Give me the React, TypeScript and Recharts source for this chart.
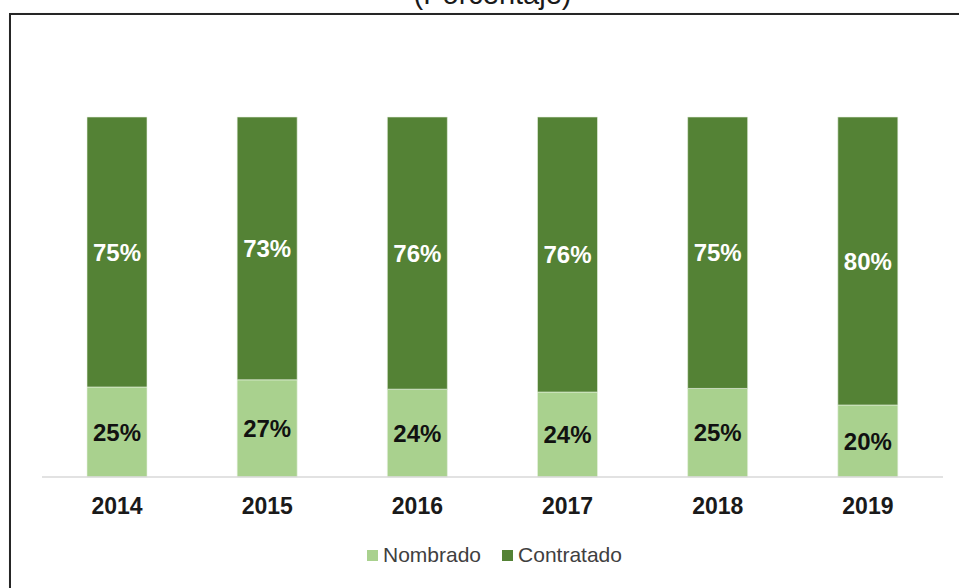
import React from 'react';
import { BarChart, Bar, XAxis, YAxis, LabelList } from 'recharts';

const YEARS = ['2014', '2015', '2016', '2017', '2018', '2019'];
const NOMBRADO = [25, 27, 24.4, 23.6, 24.6, 20];
const CONTRATADO = [75, 73, 75.6, 76.4, 75.4, 80];
const SERIES_NAMES = ['Nombrado', 'Contratado'];

const LIGHT = '#a9d18e';
const DARK = '#548235';
const SERIES_COLORS = [LIGHT, DARK];
const FONT = '"Liberation Sans", Arial, sans-serif';

const data = YEARS.map((year, i) => ({
  year,
  nombrado: NOMBRADO[i],
  contratado: CONTRATADO[i],
}));

function YearTick({ x, y, payload }: any) {
  return (
    <text x={x} y={y + 37} textAnchor="middle" fill="#1a1a1a" fontSize={23} fontWeight="bold" fontFamily={FONT}>
      {payload.value}
    </text>
  );
}

const pct = (v: any) => `${Math.round(Number(v))}%`;

export default function App() {
  return (
    <div style={{ position: 'absolute', left: 0, top: 0, width: 959, height: 588, overflow: 'hidden', background: '#fff' }}>
      <div
        style={{
          position: 'absolute',
          left: 0,
          top: -20,
          width: 959,
          textAlign: 'center',
          paddingLeft: 26,
          boxSizing: 'border-box',
          fontFamily: FONT,
          fontSize: 29,
          lineHeight: '29px',
          color: '#1a1a1a',
        }}
      >
        (Porcentaje)
      </div>
      <div
        style={{
          position: 'absolute',
          left: 9,
          top: 13,
          width: 1000,
          height: 640,
          border: '2px solid #262626',
          boxShadow: '1px 1px 2px #bbb',
        }}
      />
      <div style={{ position: 'absolute', left: 0, top: 0 }}>
        <BarChart width={959} height={588} data={data} margin={{ top: 117, right: 16, bottom: 81, left: 42 }}>
          <YAxis hide domain={[0, 100]} />
          <XAxis
            dataKey="year"
            height={30}
            tick={<YearTick />}
            tickLine={false}
            tickSize={0}
            tickMargin={0}
            axisLine={{ stroke: '#d9d9d9', strokeWidth: 1.5 }}
            interval={0}
          />
          <Bar dataKey="nombrado" name="Nombrado" stackId="a" fill={LIGHT} stroke="#e8f2e0" strokeWidth={0.6} barSize={60} isAnimationActive={false}>
            <LabelList dataKey="nombrado" position="center" formatter={pct} fill="#111" fontSize={24} fontWeight="bold" fontFamily={FONT} />
          </Bar>
          <Bar dataKey="contratado" name="Contratado" stackId="a" fill={DARK} stroke="#e8f2e0" strokeWidth={0.6} barSize={60} isAnimationActive={false}>
            <LabelList dataKey="contratado" position="center" formatter={pct} fill="#ffffff" fontSize={24} fontWeight="bold" fontFamily={FONT} />
          </Bar>
        </BarChart>
      </div>
      <div
        style={{
          position: 'absolute',
          left: 367,
          top: 542,
          display: 'flex',
          alignItems: 'center',
          fontFamily: FONT,
          fontSize: 21,
          lineHeight: '26px',
          color: '#404040',
        }}
      >
        {SERIES_NAMES.map((name, i) => (
          <div key={name} style={{ display: 'flex', alignItems: 'center', marginRight: 21 }}>
            <span style={{ width: 11, height: 11, background: SERIES_COLORS[i], marginRight: 5, display: 'inline-block' }} />
            <span>{name}</span>
          </div>
        ))}
      </div>
    </div>
  );
}
